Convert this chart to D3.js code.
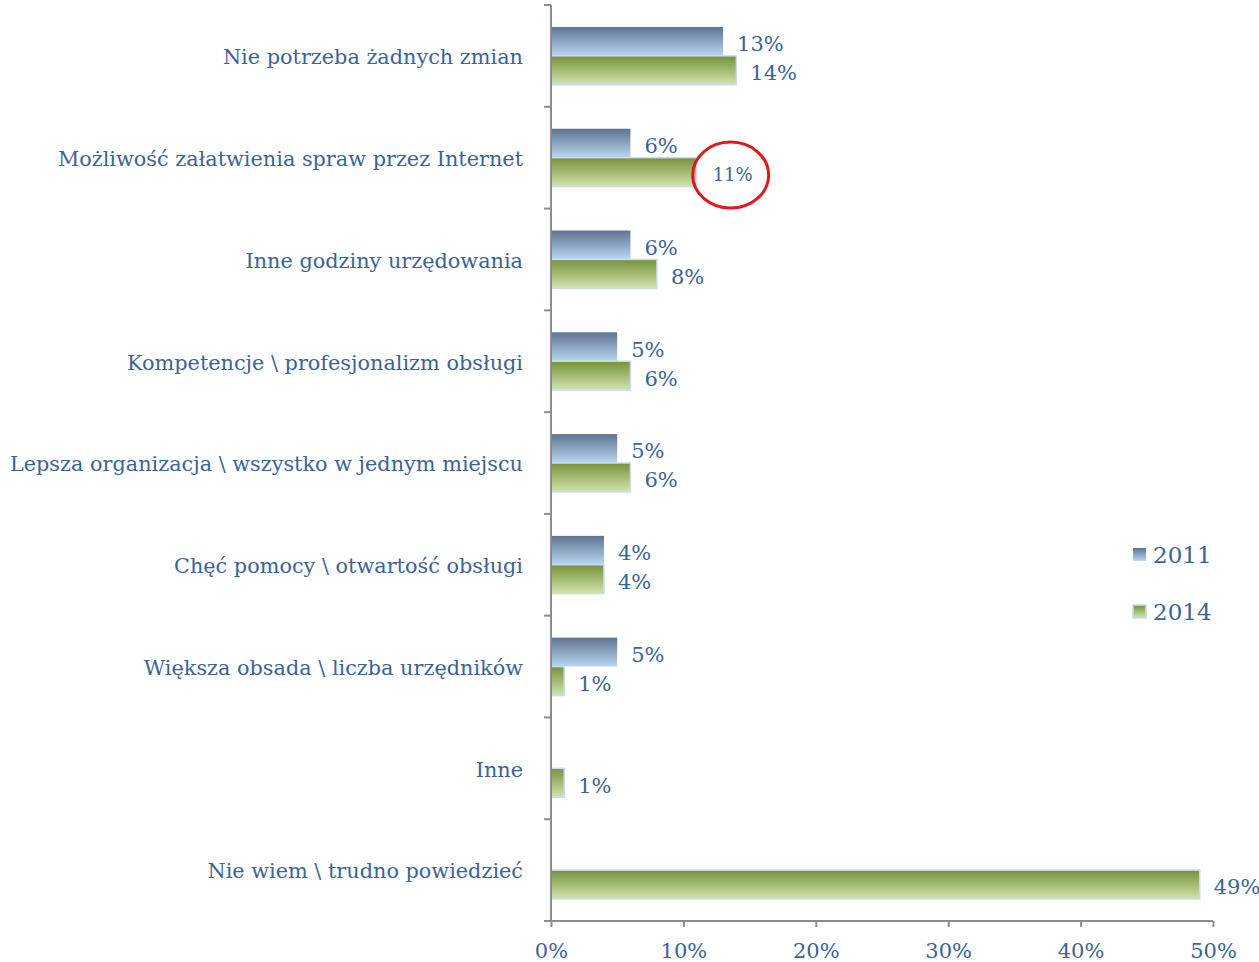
<!DOCTYPE html>
<html>
<head>
<meta charset="utf-8">
<script src="https://cdn.jsdelivr.net/npm/d3@7"></script>
<style>
  body { margin: 0; background: #fff; }
  svg text { font-family: "DejaVu Serif", Georgia, serif; fill: #3b6398; }
</style>
</head>
<body>
<svg width="1259" height="962"></svg>
<script>
// dane
var categories = [
    "Nie potrzeba żadnych zmian",
    "Możliwość załatwienia spraw przez Internet",
    "Inne godziny urzędowania",
    "Kompetencje \\ profesjonalizm obsługi",
    "Lepsza organizacja \\ wszystko w jednym miejscu",
    "Chęć pomocy \\ otwartość obsługi",
    "Większa obsada \\ liczba urzędników",
    "Inne",
    "Nie wiem \\ trudno powiedzieć"
];
var series = ["2011", "2014"];
var values2011 = [13, 6, 6, 5, 5, 4, 5, null, null];
var values2014 = [14, 11, 8, 6, 6, 4, 1, 1, 49];
var xTicks = [0, 10, 20, 30, 40, 50];

var svg = d3.select("svg");
var defs = svg.append("defs");

// gradienty
function grad(id, top, bottom) {
    var g = defs.append("linearGradient").attr("id", id)
        .attr("x1", 0).attr("y1", 0).attr("x2", 0).attr("y2", 1);
    g.append("stop").attr("offset", "0%").attr("stop-color", top);
    g.append("stop").attr("offset", "100%").attr("stop-color", bottom);
}
grad("g2011", "#5e7490", "#bad6f1");
grad("g2014", "#76923a", "#d3e3ad");

var x = d3.scaleLinear().domain([0, 50]).range([551, 1213]);
var y0 = d3.scaleBand().domain(categories).range([5, 921]);
var y1 = d3.scaleBand().domain(series).range([0, y0.bandwidth()]).paddingOuter(0.76);

var rows = categories.map(function (c, i) {
    return { cat: c, vals: [
        { s: "2011", v: values2011[i] },
        { s: "2014", v: values2014[i] }
    ] };
});

// slupki
var grp = svg.selectAll("g.row").data(rows).enter().append("g")
    .attr("class", "row")
    .attr("transform", function (d) { return "translate(0," + y0(d.cat) + ")"; });

var bars = grp.selectAll("g.bar").data(function (d) {
    return d.vals.filter(function (v) { return v.v != null; });
}).enter().append("g").attr("class", "bar");

bars.append("rect")
    .attr("x", x(0))
    .attr("y", function (d) { return y1(d.s); })
    .attr("width", function (d) { return x(d.v) - x(0); })
    .attr("height", y1.bandwidth())
    .attr("fill", function (d) { return "url(#g" + d.s + ")"; })
    .attr("stroke", function (d) { return d.s == "2014" ? "#c9dcf2" : "none"; })
    .attr("stroke-width", 1.5);

bars.append("text")
    .attr("x", function (d) { return x(d.v) + 14; })
    .attr("y", function (d) { return y1(d.s) + y1.bandwidth() / 2 + 2.5; })
    .attr("dy", "0.35em")
    .style("font-size", function (d) { return (d.s == "2014" && d.v == 11) ? "18px" : "21px"; })
    .attr("dx", function (d) { return (d.s == "2014" && d.v == 11) ? 2 : 0; })
    .text(function (d) { return d.v + "%"; });

// czerwone kolko wokol 11%
var hl = rows[1].vals[1];
svg.append("ellipse")
    .attr("cx", x(hl.v) + 34)
    .attr("cy", y0(rows[1].cat) + y1("2014") + y1.bandwidth() / 2 + 3)
    .attr("rx", 38).attr("ry", 33)
    .attr("fill", "none").attr("stroke", "#e3171b").attr("stroke-width", 3);

// osie
var yAxis = svg.append("g");
yAxis.append("line").attr("x1", 551).attr("x2", 551).attr("y1", 5).attr("y2", 921)
    .attr("stroke", "#8c8c8c").attr("stroke-width", 2);
yAxis.selectAll("line.tk").data(categories).enter().append("line")
    .attr("class", "tk")
    .attr("x1", 544).attr("x2", 551)
    .attr("y1", function (d) { return y0(d); }).attr("y2", function (d) { return y0(d); })
    .attr("stroke", "#8c8c8c").attr("stroke-width", 2);

yAxis.selectAll("text.cat").data(categories).enter().append("text")
    .attr("class", "cat")
    .attr("x", 523)
    .attr("y", function (d) { return y0(d) + y0.bandwidth() / 2 + 1; })
    .attr("dy", "0.35em")
    .attr("text-anchor", "end")
    .style("font-size", "20.8px")
    .text(function (d) { return d; });

var xAxis = svg.append("g").attr("transform", "translate(0,921)")
    .call(d3.axisBottom(x).tickValues(xTicks).tickSize(6).tickPadding(16)
        .tickFormat(function (d) { return d + "%"; }));
xAxis.select(".domain").attr("stroke", "#8c8c8c").attr("stroke-width", 2)
    .attr("d", "M544,0H1213");
xAxis.selectAll(".tick line").attr("stroke", "#8c8c8c").attr("stroke-width", 2);
xAxis.selectAll(".tick text").style("font-size", "21px")
    .style("font-family", "'DejaVu Serif', Georgia, serif").attr("fill", "#3b6398");

// legenda
var leg = svg.selectAll("g.leg").data(series).enter().append("g")
    .attr("class", "leg")
    .attr("transform", function (d, i) { return "translate(1133," + (548 + i * 57) + ")"; });
leg.append("rect").attr("width", 13).attr("height", 13)
    .attr("fill", function (d) { return "url(#g" + d + ")"; })
    .attr("stroke", function (d) { return d == "2014" ? "#c9dcf2" : "none"; })
    .attr("stroke-width", 1.5);
leg.append("text").attr("x", 20).attr("y", 7).attr("dy", "0.35em")
    .style("font-size", "23px")
    .text(function (d) { return d; });
</script>
</body>
</html>
